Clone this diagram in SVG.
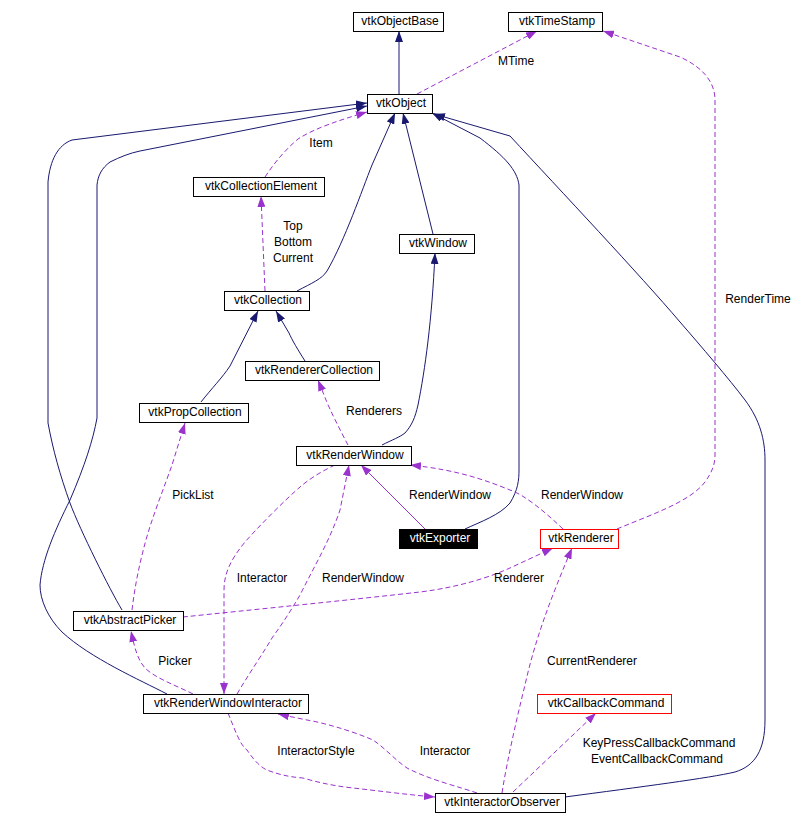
<svg xmlns="http://www.w3.org/2000/svg" width="797" height="824" viewBox="0 0 797 824">
<style>
  .box { fill: #ffffff; stroke: #000000; stroke-width: 1; }
  .red { fill: #ffffff; stroke: #ff0000; stroke-width: 1; }
  .blk { fill: #000000; stroke: #000000; stroke-width: 1; }
  text { font-family: "Liberation Sans", Arial, sans-serif; font-size: 12px; text-anchor: middle; fill: #000000; }
  .wt { fill: #ffffff; }
  .inh { fill: none; stroke: #191970; stroke-width: 1; marker-end: url(#an); }
  .use { fill: none; stroke: #9a32cd; stroke-width: 1; stroke-dasharray: 5,3; marker-end: url(#ap); }
  .uses { fill: none; stroke: #9a32cd; stroke-width: 1; marker-end: url(#ap); }
</style>
<defs>
  <marker id="an" markerUnits="userSpaceOnUse" markerWidth="11" markerHeight="8" viewBox="0 0 11 8" refX="11" refY="4" orient="auto">
    <path d="M0,0 L11,4 L0,8 z" fill="#191970" stroke="none"/>
  </marker>
  <marker id="ap" markerUnits="userSpaceOnUse" markerWidth="11" markerHeight="8" viewBox="0 0 11 8" refX="11" refY="4" orient="auto">
    <path d="M0,0 L11,4 L0,8 z" fill="#9a32cd" stroke="none"/>
  </marker>
</defs>
<rect x="0" y="0" width="797" height="824" fill="#ffffff"/>

<g id="connectors">
  <path class="inh" d="M399,94 L399,31"/>
  <path class="use" d="M417,94 L537,31"/>
  <path class="use" d="M617,529 C650,515 690,502 705,482 C712,472 715,465 715,455 L715,100 C715,80 700,66 680,57 L603,31"/>
  <path class="use" d="M265,177 C275,162 285,150 298,139 C315,128 340,120 367,112"/>
  <path class="inh" d="M297,291 C312,283 322,279 327,271 C345,240 362,190 372,165 L395,113"/>
  <path class="inh" d="M433,234 L403,113"/>
  <path class="inh" d="M465,529 C480,522 500,515 510,503 C518,490 519,480 519,470 L519,185 C517,170 505,157 480,138 L432,113"/>
  <path class="inh" d="M565,797 C640,787 710,778 735,772 C755,766 765,750 765,720 L765,460 C765,440 760,420 745,400 C730,380 700,345 680,322 C640,275 560,190 510,136 L434,114"/>
  <path class="inh" d="M122,610 C110,590 80,530 70,503 C60,475 53,450 48,423 L48,182 C50,160 58,145 72,140 L367,103"/>
  <path class="inh" d="M167,694 C140,680 90,658 62,632 C48,618 40,600 40,585 C42,560 55,530 70,500 C85,465 93,440 97,418 L97,185 C98,175 102,168 110,162 C120,157 130,153 140,151 L367,106"/>
  <path class="inh" d="M201,402 C212,388 222,378 230,366 L258,311"/>
  <path class="inh" d="M305,361 C298,350 292,340 289,333 L276,311"/>
  <path class="use" d="M265,291 L261,196"/>
  <path class="inh" d="M382,445 C392,440 400,437 405,433 C412,425 415,418 418,405 C425,370 432,320 435,253"/>
  <path class="use" d="M348,445 C340,430 330,410 326,400 L318,380"/>
  <path class="use" d="M132,610 C135,585 140,560 148,533 C155,510 165,485 172,465 L185,423"/>
  <path class="uses" d="M425,529 L361,465"/>
  <path class="use" d="M563,529 C545,512 525,495 510,490 C490,482 460,470 410,465"/>
  <path class="use" d="M237,694 C250,672 262,655 272,638 C285,620 293,607 300,595 C315,565 330,540 340,510 L349,465"/>
  <path class="use" d="M335,465 C320,472 308,480 300,487 C285,500 260,525 245,542 C232,558 224,572 224,590 L224,694"/>
  <path class="use" d="M183,617 C250,610 350,600 420,592 C460,587 490,577 510,568 L553,548"/>
  <path class="use" d="M193,694 C175,685 155,678 145,668 C138,660 135,650 131,631"/>
  <path class="use" d="M502,793 C504,780 506,770 508,760 C513,735 520,705 525,685 C535,640 550,600 572,548"/>
  <path class="use" d="M513,792 L596,713"/>
  <path class="use" d="M477,793 C460,787 430,780 407,768 C395,760 385,748 373,740 C350,730 320,722 307,720 L278,714"/>
  <path class="use" d="M228,713 C235,730 240,745 247,750 C255,762 262,768 267,770 C280,775 290,777 303,778 C320,783 335,786 353,788 C380,791 410,795 435,797"/>

  <text x="516" y="65">MTime</text>
  <text x="758" y="303">RenderTime</text>
  <text x="321" y="147">Item</text>
  <text x="293" y="230">Top</text>
  <text x="293" y="246">Bottom</text>
  <text x="293" y="262">Current</text>
  <text x="374" y="415">Renderers</text>
  <text x="193" y="499">PickList</text>
  <text x="450" y="499">RenderWindow</text>
  <text x="582" y="499">RenderWindow</text>
  <text x="262" y="582">Interactor</text>
  <text x="363" y="582">RenderWindow</text>
  <text x="519" y="582">Renderer</text>
  <text x="175" y="665">Picker</text>
  <text x="592" y="665">CurrentRenderer</text>
  <text x="316" y="755">InteractorStyle</text>
  <text x="445" y="755">Interactor</text>
  <text x="659" y="747">KeyPressCallbackCommand</text>
  <text x="657" y="763">EventCallbackCommand</text>
</g>

<g id="vtkObjectBase"><rect class="box" x="353.5" y="12.5" width="90" height="19"/><text x="400" y="25">vtkObjectBase</text></g>
<g id="vtkTimeStamp"><rect class="box" x="508.5" y="12.5" width="94" height="19"/><text x="557" y="25">vtkTimeStamp</text></g>
<g id="vtkObject"><rect class="box" x="367.5" y="94.5" width="65" height="19"/><text x="401" y="107">vtkObject</text></g>
<g id="vtkCollectionElement"><rect class="box" x="193.5" y="177.5" width="131" height="19"/><text x="261" y="190">vtkCollectionElement</text></g>
<g id="vtkWindow"><rect class="box" x="399.5" y="234.5" width="75" height="19"/><text x="438" y="247">vtkWindow</text></g>
<g id="vtkCollection"><rect class="box" x="224.5" y="291.5" width="85" height="19"/><text x="268" y="304">vtkCollection</text></g>
<g id="vtkRendererCollection"><rect class="box" x="245.5" y="361.5" width="134" height="19"/><text x="314" y="374">vtkRendererCollection</text></g>
<g id="vtkPropCollection"><rect class="box" x="139.5" y="403.5" width="109" height="19"/><text x="195" y="416">vtkPropCollection</text></g>
<g id="vtkRenderWindow"><rect class="box" x="296.5" y="446.5" width="115" height="19"/><text x="355" y="459">vtkRenderWindow</text></g>
<g id="vtkExporter"><rect class="blk" x="399.5" y="529.5" width="78" height="19"/><text class="wt" x="440" y="542">vtkExporter</text></g>
<g id="vtkRenderer"><rect class="red" x="540.5" y="529.5" width="78" height="19"/><text x="581" y="542">vtkRenderer</text></g>
<g id="vtkAbstractPicker"><rect class="box" x="73.5" y="611.5" width="110" height="19"/><text x="130" y="624">vtkAbstractPicker</text></g>
<g id="vtkRenderWindowInteractor"><rect class="box" x="143.5" y="694.5" width="165" height="19"/><text x="228" y="707">vtkRenderWindowInteractor</text></g>
<g id="vtkCallbackCommand"><rect class="red" x="537.5" y="694.5" width="134" height="19"/><text x="606" y="707">vtkCallbackCommand</text></g>
<g id="vtkInteractorObserver"><rect class="box" x="435.5" y="793.5" width="130" height="19"/><text x="502" y="806">vtkInteractorObserver</text></g>
</svg>
